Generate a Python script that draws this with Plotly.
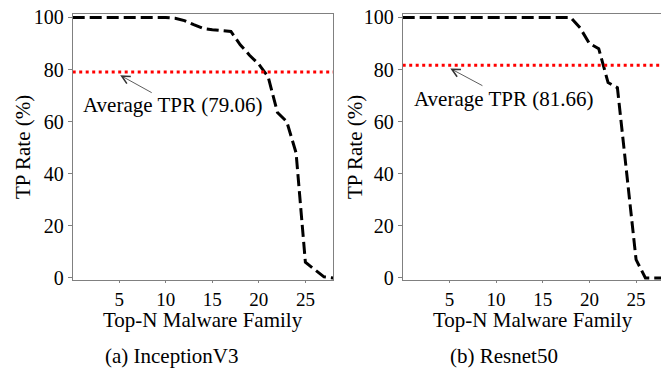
import plotly.graph_objects as go

# ---- data ----
top_n = list(range(0, 29))
inception_tpr = [100, 100, 100, 100, 100, 100, 100, 100, 100, 100, 100,
                 99.7, 98.8, 97.2, 95.8, 95.3, 95.0, 94.6, 89.5, 85.5, 82.0,
                 77.2, 63.5, 60.0, 48.0, 6.0, 3.2, 0.4, 0.0]
resnet_tpr = [100, 100, 100, 100, 100, 100, 100, 100, 100, 100, 100,
              100, 100, 100, 100, 100, 100, 100, 100,
              96.0, 90.0, 88.0, 75.0, 73.0, 39.0, 7.0, 0.0, 0.0, 0.0]
avg_tpr = [79.06, 81.66]
panel_names = ["(a) InceptionV3", "(b) Resnet50"]
x_ticks = [5, 10, 15, 20, 25]
y_ticks = [0, 20, 40, 60, 80, 100]

W, H = 661, 368
FONT = "Liberation Serif"

def px(x):
    return x / W

def py(y):
    return 1 - y / H

fig = go.Figure()

series = [inception_tpr, resnet_tpr]
for i, vals in enumerate(series):
    xa = "x" if i == 0 else "x2"
    ya = "y" if i == 0 else "y2"
    fig.add_trace(go.Scatter(
        x=top_n, y=vals, mode="lines", xaxis=xa, yaxis=ya,
        line=dict(color="black", width=3, dash="12px,5px"),
        showlegend=False, hoverinfo="skip"))
    fig.add_trace(go.Scatter(
        x=[top_n[0], top_n[-1]], y=[avg_tpr[i], avg_tpr[i]], mode="lines",
        xaxis=xa, yaxis=ya,
        line=dict(color="red", width=3, dash="3px,3.5px"),
        showlegend=False, hoverinfo="skip"))

axis_common = dict(
    showgrid=False, zeroline=False, showline=True, linecolor="#808080",
    linewidth=1, ticks="outside", tickcolor="#808080",
    automargin=False,
)
yfont = dict(family=FONT, size=20, color="black")
xfont = dict(family=FONT, size=19, color="black")

fig.update_layout(
    width=W, height=H,
    margin=dict(l=0, r=0, t=0, b=0, autoexpand=False),
    plot_bgcolor="white", paper_bgcolor="white",
    xaxis=dict(domain=[px(72.7), px(333.3)], range=[0, 28], ticklen=2,
               tickfont=xfont,
               tickvals=x_ticks, mirror=True, anchor="y", **axis_common),
    yaxis=dict(domain=[py(280), py(14.3)], range=[-0.8, 101.2], ticklen=4,
               tickfont=yfont,
               tickvals=y_ticks, mirror=True, anchor="x", **axis_common),
    xaxis2=dict(domain=[px(402.7), 1.0], range=[0, 27.67], ticklen=2,
                tickfont=xfont,
                tickvals=x_ticks, mirror=True, anchor="y2", **axis_common),
    yaxis2=dict(domain=[py(280), py(14.3)], range=[-0.8, 101.2], ticklen=4,
                tickfont=yfont,
                tickvals=y_ticks, mirror=False, anchor="x2", **axis_common),
)

annotations = []
# Average TPR labels and arrows
arrow_specs = [
    dict(xref="x", yref="y", tip=(5.1, 77.8), tail=(8.65, 70.8), txt=(10.76, 66.3)),
    dict(xref="x2", yref="y2", tip=(5.1, 80.4), tail=(8.7, 73.5), txt=(10.75, 68.6)),
]
for i, s in enumerate(arrow_specs):
    annotations.append(dict(
        xref=s["xref"], yref=s["yref"], axref=s["xref"], ayref=s["yref"],
        x=s["tip"][0], y=s["tip"][1], ax=s["tail"][0], ay=s["tail"][1],
        text="", showarrow=True, arrowhead=5, arrowsize=2, arrowwidth=0.8,
        arrowcolor="#333333"))
    annotations.append(dict(
        xref=s["xref"], yref=s["yref"], x=s["txt"][0], y=s["txt"][1],
        text=f"Average TPR ({avg_tpr[i]:.2f})", showarrow=False,
        font=dict(family=FONT, size=21, color="black"),
        xanchor="center", yanchor="middle"))

# Axis titles
for xc in [23, 355]:
    annotations.append(dict(
        xref="paper", yref="paper", x=px(xc), y=py(147), text="TP Rate (%)",
        textangle=-90, showarrow=False, xanchor="center", yanchor="middle",
        font=dict(family=FONT, size=21, color="black")))
for xc in [203, 533]:
    annotations.append(dict(
        xref="paper", yref="paper", x=px(xc), y=py(320), text="Top-N Malware Family",
        showarrow=False, xanchor="center", yanchor="middle",
        font=dict(family=FONT, size=21, color="black")))
for xc, name in zip([172, 504], panel_names):
    annotations.append(dict(
        xref="paper", yref="paper", x=px(xc), y=py(356), text=name,
        showarrow=False, xanchor="center", yanchor="middle",
        font=dict(family=FONT, size=21, color="black")))

fig.update_layout(annotations=annotations)
fig.write_html("out.html", config={"displayModeBar": False},
               post_script="document.body.style.margin='0';document.body.style.overflow='hidden';")
